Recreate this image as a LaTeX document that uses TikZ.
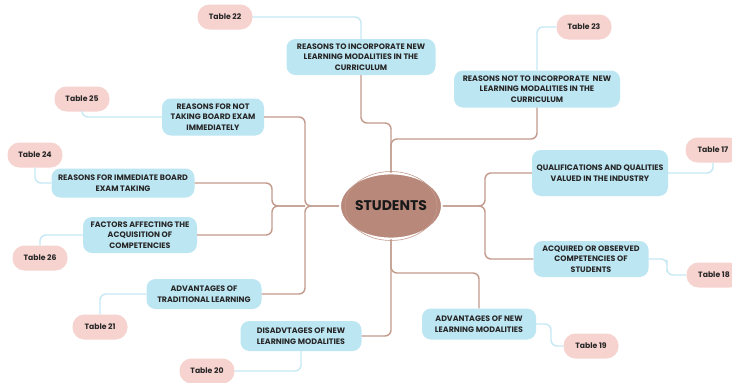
\documentclass[tikz,border=0pt]{standalone}
\usepackage{fontspec}
\setmainfont{Poppins}
\usetikzlibrary{shapes.geometric}
\definecolor{topicfill}{HTML}{BDE6F3}
\definecolor{tablefill}{HTML}{F6D3CF}
\definecolor{trunk}{HTML}{C39B8D}
\definecolor{twig}{HTML}{C6E8F5}
\definecolor{hubfill}{HTML}{B8887B}
\tikzset{
  topic/.style={fill=topicfill, rounded corners=9pt, align=center, inner sep=0pt,
    font=\fontsize{7.9}{10.6}\selectfont\bfseries, text=black!85},
  tablepill/.style={fill=tablefill, rounded corners=12pt, inner sep=0pt,
    minimum width=55pt, minimum height=25pt, font=\fontsize{7.7}{8}\selectfont\bfseries, text=black!85},
  trunkline/.style={draw=trunk, line width=1.4pt, rounded corners=6pt},
  twigline/.style={draw=twig, line width=1.4pt, rounded corners=6pt},
}
\begin{document}
\begin{tikzpicture}[x=1pt, y=-1pt]
\clip (0,0) rectangle (732,383);
\fill[white] (0,0) rectangle (732,383);

% junction points of the trunk lines
\coordinate (jTa) at (391,123);
\coordinate (jTb) at (391,139);
\coordinate (jL) at (305,206);
\coordinate (jL2) at (272,206);
\coordinate (jR) at (485,206);
\coordinate (jB) at (391,273);
\coordinate (s19) at (551,335);
\coordinate (s18) at (667,266);

% topics
\node[topic, minimum width=149pt, minimum height=36pt] (top1) at (361,57)
  {REASONS TO INCORPORATE NEW\\LEARNING MODALITIES IN THE\\CURRICULUM};
\node[topic, minimum width=166pt, minimum height=37pt] (top2) at (537,89)
  {REASONS NOT TO INCORPORATE\ \ NEW\\LEARNING MODALITIES IN THE\\CURRICULUM};
\node[topic, minimum width=102pt, minimum height=37pt] (top3) at (213,117)
  {REASONS FOR NOT\\TAKING BOARD EXAM\\IMMEDIATELY};
\node[topic, minimum width=143pt, minimum height=29pt] (top4) at (123,183)
  {REASONS FOR IMMEDIATE BOARD\\EXAM TAKING};
\node[topic, minimum width=114pt, minimum height=36pt] (top5) at (140,235)
  {FACTORS AFFECTING THE\\ACQUISITION OF\\COMPETENCIES};
\node[topic, minimum width=115pt, minimum height=30pt] (top6) at (204,294)
  {ADVANTAGES OF\\TRADITIONAL LEARNING};
\node[topic, minimum width=121pt, minimum height=30pt] (top7) at (301,336)
  {DISADVTAGES OF NEW\\LEARNING MODALITIES};
\node[topic, minimum width=114pt, minimum height=31pt] (top8) at (479,324)
  {ADVANTAGES OF NEW\\LEARNING MODALITIES};
\node[topic, minimum width=136pt, minimum height=46pt] (top9) at (600,173)
  {QUALIFICATIONS AND QUALITIES\\VALUED IN THE INDUSTRY};
\node[topic, minimum width=115pt, minimum height=36pt] (top10) at (591,259)
  {ACQUIRED OR OBSERVED\\COMPETENCIES OF\\STUDENTS};

% table references
\node[tablepill] (t22) at (225,17) {Table 22};
\node[tablepill] (t23) at (584,27) {Table 23};
\node[tablepill] (t25) at (82,99) {Table 25};
\node[tablepill] (t24) at (35,155) {Table 24};
\node[tablepill] (t26) at (40,258) {Table 26};
\node[tablepill] (t21) at (100,327) {Table 21};
\node[tablepill] (t20) at (207,371) {Table 20};
\node[tablepill] (t19) at (591,346) {Table 19};
\node[tablepill] (t17) at (713,150) {Table 17};
\node[tablepill] (t18) at (714,275) {Table 18};

% central hub
\node[ellipse, fill=hubfill, draw=white, line width=1.8pt, minimum width=89pt, minimum height=65pt,
  inner sep=0pt, font=\fontsize{14}{15}\selectfont\bfseries, text=black!90] (stu) at (391,206) {STUDENTS};
\draw[trunk, line width=0.6pt] (stu.center) ellipse (46 and 34.5);

% trunk lines from the hub
\draw[trunkline] (top1.south) |- (jTa) -- (stu.north);
\draw[trunkline] (top2.south) |- (jTb) -- (stu.north);
\draw[trunkline] (top3.east) -| (jL) -- (stu.west);
\draw[trunkline] (top6.east) -| (jL) -- (stu.west);
\draw[trunkline] (top4.east) -| (jL2) -- (jL);
\draw[trunkline] (top5.east) -| (jL2) -- (jL);
\draw[trunkline] (top9.west) -| (jR) -- (stu.east);
\draw[trunkline] (top10.west) -| (jR) -- (stu.east);
\draw[trunkline] (top8.north) |- (jB) -- (stu.south);
\draw[trunkline] (top7.east) -| (stu.south);

% links to the tables
\draw[twigline] (t22.east) -| (top1.north);
\draw[twigline] (t23.west) -| (top2.north);
\draw[twigline] (t25.south) |- (top3.west);
\draw[twigline] (t24.south) |- (top4.west);
\draw[twigline] (top5.west) -| (t26.north);
\draw[twigline] (top6.west) -| (t21.north);
\draw[twigline] (top7.south) |- (t20.east);
\draw[twigline] (top8.east) -| (s19) |- (t19.west);
\draw[twigline] (top9.east) -| (t17.south);
\draw[twigline] (top10.east) -| (s18) |- (t18.west);
\end{tikzpicture}
\end{document}
